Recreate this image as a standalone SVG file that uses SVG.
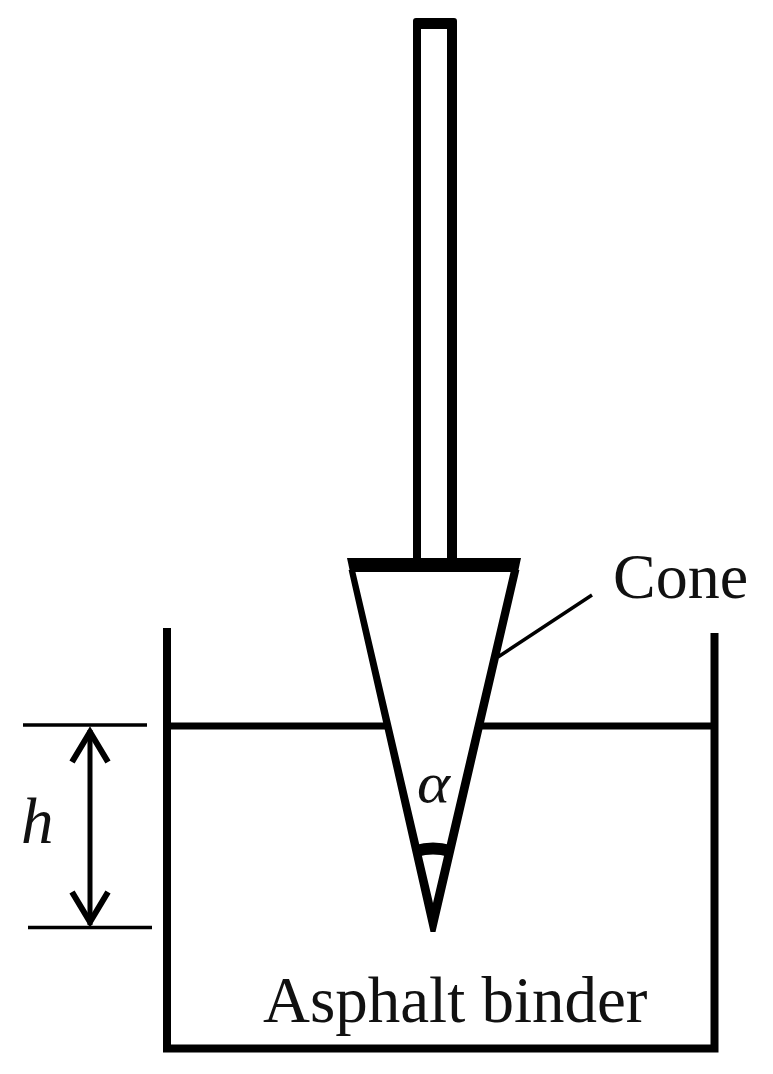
<svg xmlns="http://www.w3.org/2000/svg" width="773" height="1074" viewBox="0 0 773 1074">
<style>
.l{fill:none;stroke:#000;stroke-linecap:butt;stroke-linejoin:miter}
.f{fill:#000;fill-rule:evenodd}
.t{font-family:"Liberation Serif",serif;fill:#111}
</style>
<rect width="773" height="1074" fill="#fff"/>
<g id="rod"><path class="f" d="M413 560V21Q413 18 416 18H454Q457 18 457 21V560H447V29H421V560Z"/></g>
<g id="cone"><path class="f" d="M348.600 570L430.500 932H435.500L519.400 570H511L433 903L355 570Z"/><path class="f" d="M347 558H521L518 572H350Z"/><path class="l" stroke-width="12" d="M416 851Q433 846 450 851"/></g>
<g id="container"><path class="l" stroke-width="8" d="M167 628V1048.500H714.500V633"/></g>
<g id="surface"><path class="l" stroke-width="7" d="M170 726H386M480 726H712"/></g>
<g id="connectors">
<path class="l" stroke-width="3.500" d="M23 725H147M28 927.500H152M498 657L592 595"/>
<path class="l" stroke-width="5" d="M90 730V925"/>
<path class="l" stroke-width="6" d="M72 762L90 732L108 762M72 892L90 922L108 892"/>
</g>
<g id="labels">
<text class="t" x="613" y="598" font-size="64">Cone</text>
<text class="t" x="263" y="1022" font-size="65">Asphalt binder</text>
<text class="t" x="21" y="843" font-size="65" font-style="italic">h</text>
<text class="t" x="417" y="802" font-size="56" font-style="italic" textLength="33" lengthAdjust="spacingAndGlyphs">α</text>
</g>
</svg>
